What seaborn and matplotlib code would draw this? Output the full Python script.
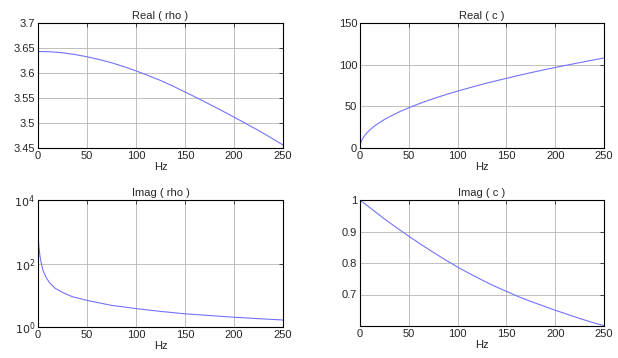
import numpy as np
import pandas as pd
import matplotlib
matplotlib.use("Agg")
import matplotlib.pyplot as plt
import seaborn as sns
from matplotlib.ticker import FixedLocator, NullLocator

# data
hz_rho_re = [0, 12.5, 25, 37.5, 50, 62.5, 75, 87.5, 100, 112.5, 125, 137.5,
             150, 162.5, 175, 187.5, 200, 212.5, 225, 237.5, 250]
real_rho = [3.643, 3.6425, 3.6405, 3.637, 3.6325, 3.627, 3.6205, 3.6128, 3.6043,
            3.595, 3.585, 3.574, 3.562, 3.550, 3.5375, 3.5248, 3.5118, 3.4985,
            3.485, 3.4708, 3.456]

hz_c_re = [0.5, 1, 2, 3, 5, 7.5, 10, 15, 20, 25, 30, 40, 50, 60, 70, 80, 90,
           100, 115, 130, 145, 160, 175, 190, 205, 220, 235, 250]
real_c = [5, 7, 9.7, 11.8, 15.3, 18.7, 21.6, 26.5, 30.5, 34.2, 37.4, 43.2,
          48.3, 52.9, 57.1, 61.1, 64.8, 68.3, 73.2, 77.9, 82.2, 86.4, 90.4,
          94.2, 97.8, 101.3, 104.7, 108]

hz_rho_im = [0.2, 0.3, 0.5, 1, 2, 3.4, 5, 8.5, 12, 17, 25, 35, 50, 75, 100,
             125, 150, 175, 200, 225, 250]
imag_rho = [4200, 1500, 480, 330, 170, 100, 62, 35, 24.5, 17, 12.3, 9.0, 6.9,
            4.8, 3.8, 3.1, 2.6, 2.3, 2.03, 1.83, 1.66]

hz_c_im = [0, 12.5, 25, 37.5, 50, 62.5, 75, 87.5, 100, 112.5, 125, 137.5,
           150, 162.5, 175, 187.5, 200, 212.5, 225, 237.5, 250]
imag_c = [1.0, 0.970, 0.940, 0.912, 0.885, 0.859, 0.834, 0.810, 0.787, 0.766,
          0.746, 0.727, 0.710, 0.693, 0.678, 0.664, 0.650, 0.637, 0.624,
          0.612, 0.601]

sns.set_style("white")
plt.rcParams["font.family"] = ["Liberation Sans", "DejaVu Sans"]
plt.rcParams["font.size"] = 8

fig = plt.figure(figsize=(6.18, 3.58), dpi=100)
W, H = 618, 358
boxes = [(38, 23, 283, 148), (360, 23, 604, 148),
         (38, 200, 283, 327), (360, 200, 604, 326)]
axes = [fig.add_axes([x0 / W, 1 - y1 / H, (x1 - x0) / W, (y1 - y0) / H])
        for x0, y0, x1, y1 in boxes]

panels = [
    (hz_rho_re, real_rho, "Real ( rho )"),
    (hz_c_re, real_c, "Real ( c )"),
    (hz_rho_im, imag_rho, "Imag ( rho )"),
    (hz_c_im, imag_c, "Imag ( c )"),
]

for ax, (x, y, title) in zip(axes, panels):
    df = pd.DataFrame({"Hz": x, "val": y})
    sns.lineplot(data=df, x="Hz", y="val", ax=ax, color="#7373ff", linewidth=0.8)
    ax.set_title(title, fontsize=8, pad=3)
    ax.set_xlabel("Hz", fontsize=8, labelpad=1)
    ax.set_ylabel("")
    ax.set_xlim(0, 250)
    ax.set_xticks([0, 50, 100, 150, 200, 250])
    for s in ax.spines.values():
        s.set_color("black")
        s.set_linewidth(0.8)
    ax.tick_params(direction="in", top=True, right=True, length=3, width=0.6,
                   labelsize=8, pad=2)
    ax.grid(True, color="#b4b4b4", linewidth=0.6)

axes[0].set_ylim(3.45, 3.7)
axes[0].set_yticks([3.45, 3.5, 3.55, 3.6, 3.65, 3.7])
axes[0].set_yticklabels(["3.45", "3.5", "3.55", "3.6", "3.65", "3.7"])

axes[1].set_ylim(0, 150)
axes[1].set_yticks([0, 50, 100, 150])

axes[2].set_yscale("log")
axes[2].set_ylim(1, 1e4)
axes[2].yaxis.set_major_locator(FixedLocator([1, 1e2, 1e4]))
axes[2].yaxis.set_minor_locator(NullLocator())
axes[2].set_yticklabels(["$10^0$", "$10^2$", "$10^4$"])

axes[3].set_ylim(0.6, 1.0)
axes[3].set_yticks([0.7, 0.8, 0.9, 1.0])
axes[3].set_yticklabels(["0.7", "0.8", "0.9", "1"])

fig.savefig("out.png", dpi=100, facecolor="white")
